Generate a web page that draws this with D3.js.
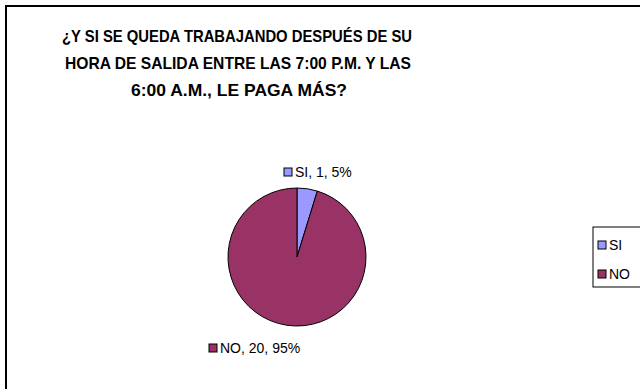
<!DOCTYPE html>
<html>
<head>
<meta charset="utf-8">
<script src="https://cdn.jsdelivr.net/npm/d3@7"></script>
<style>
  body { margin: 0; background: #fff; }
  svg { display: block; font-family: "Liberation Sans", Arial, sans-serif; }
</style>
</head>
<body>
<svg id="chart" width="640" height="389"></svg>
<script>
// Data
const categories = ["SI", "NO"];
const counts = [1, 20];
const percents = ["5%", "95%"];
const colors = ["#9999FF", "#993366"];
const titleLines = [
  "¿Y SI SE QUEDA TRABAJANDO DESPUÉS DE SU",
  "HORA DE SALIDA ENTRE LAS 7:00 P.M. Y LAS",
  "6:00 A.M., LE PAGA MÁS?"
];

const svg = d3.select("#chart");

// Chart frame (runs off the right and bottom edges)
svg.append("rect")
  .attr("x", 6).attr("y", 6)
  .attr("width", 700).attr("height", 500)
  .attr("fill", "#fff")
  .attr("stroke", "#000")
  .attr("stroke-width", 2);

// Title (squeezed a little, the original font is narrower)
const titleWidths = [350, 346, 216];
svg.append("g").selectAll("text")
  .data(titleLines)
  .enter()
  .append("text")
  .attr("x", (d, i) => 237 + i)
  .attr("y", (d, i) => 42 + i * 27)
  .attr("text-anchor", "middle")
  .attr("font-size", 17)
  .attr("font-weight", "bold")
  .attr("textLength", (d, i) => titleWidths[i])
  .attr("lengthAdjust", "spacingAndGlyphs")
  .text(d => d);

// Pie
const cx = 297, cy = 257, radius = 69;
const pieData = categories.map((c, i) => ({ name: c, value: counts[i], pct: percents[i], color: colors[i] }));

const pie = d3.pie().sort(null).value(d => d.value);
const arc = d3.arc().innerRadius(0).outerRadius(radius);

const pieG = svg.append("g").attr("transform", `translate(${cx}, ${cy})`);

pieG.selectAll("path")
  .data(pie(pieData))
  .enter()
  .append("path")
  .attr("d", arc)
  .attr("fill", d => d.data.color)
  .attr("stroke", "#000")
  .attr("stroke-width", 1);

// Data labels
const labelPos = [[284, 168], [209, 344]];
const labels = svg.append("g").selectAll("g")
  .data(pieData)
  .enter()
  .append("g")
  .attr("transform", (d, i) => `translate(${labelPos[i][0]}, ${labelPos[i][1]})`);

labels.append("rect")
  .attr("width", 8).attr("height", 8)
  .attr("fill", d => d.color)
  .attr("stroke", "#000")
  .attr("stroke-width", 1);

labels.append("text")
  .attr("x", 11)
  .attr("y", 9)
  .attr("font-size", 14)
  .text(d => `${d.name}, ${d.value}, ${d.pct}`);

// Legend
const legend = svg.append("g").attr("transform", "translate(593, 227)");

legend.append("rect")
  .attr("width", 80).attr("height", 60)
  .attr("fill", "#fff")
  .attr("stroke", "#000")
  .attr("stroke-width", 1);

const legendItems = legend.selectAll("g")
  .data(pieData)
  .enter()
  .append("g")
  .attr("transform", (d, i) => `translate(5, ${14 + i * 29})`);

legendItems.append("rect")
  .attr("width", 8).attr("height", 8)
  .attr("fill", d => d.color)
  .attr("stroke", "#000")
  .attr("stroke-width", 1);

legendItems.append("text")
  .attr("x", 11)
  .attr("y", 9)
  .attr("font-size", 14)
  .text(d => d.name);
</script>
</body>
</html>
